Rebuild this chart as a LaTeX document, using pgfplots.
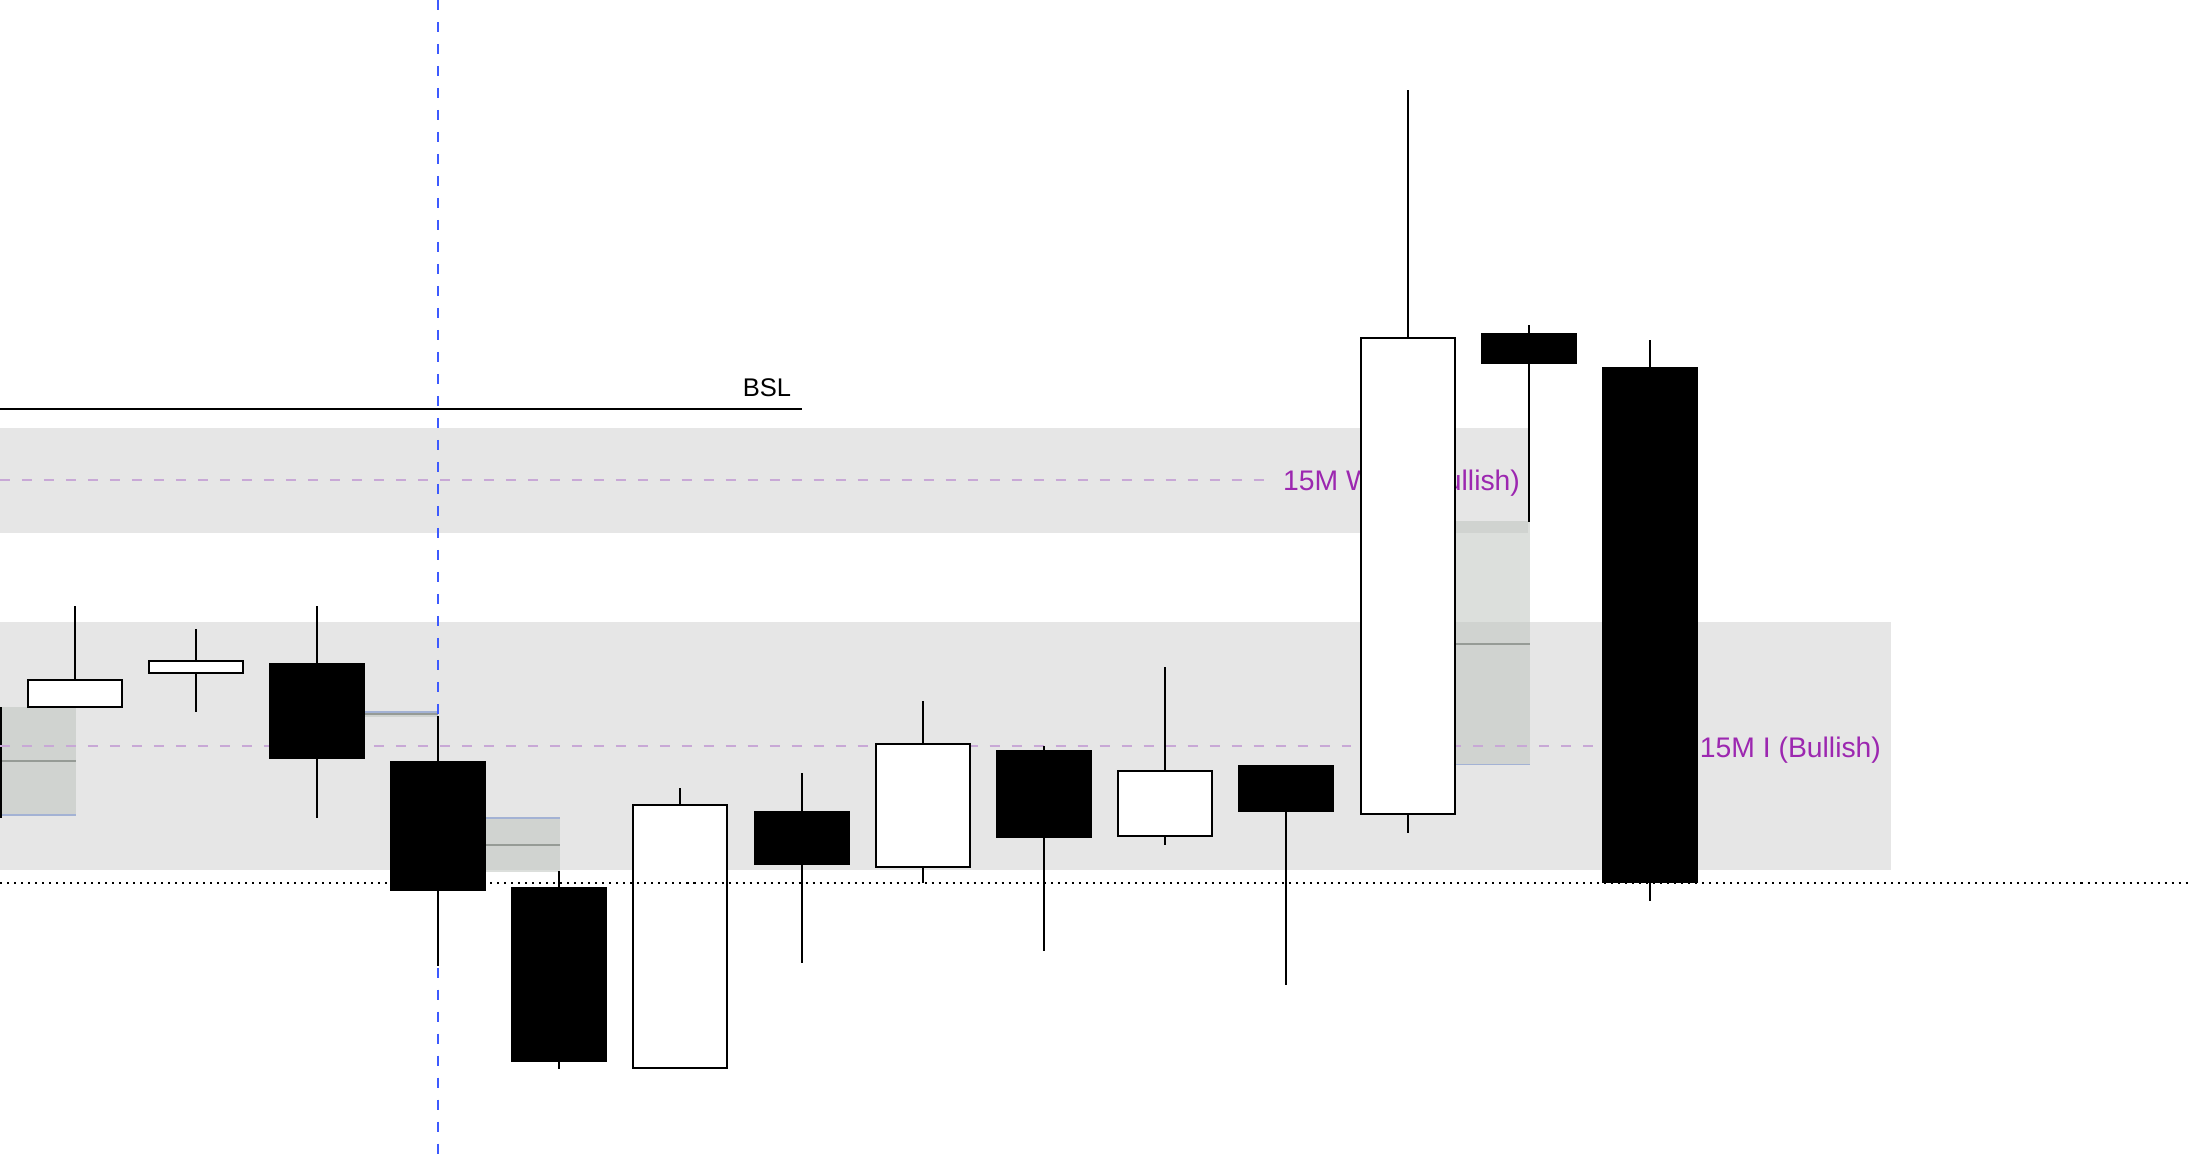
\documentclass[border=0pt]{standalone}
\usepackage{pgfplots}
\pgfplotsset{compat=1.18}
\usepackage{fontspec}
\setmainfont{Liberation Sans}
\definecolor{band}{RGB}{230,230,230}
\definecolor{fvg}{RGB}{191,197,191}
\definecolor{fvgmid}{RGB}{150,155,150}
\definecolor{fvgblue}{RGB}{163,178,212}
\definecolor{lav}{RGB}{200,168,214}
\definecolor{lblpurple}{RGB}{156,39,176}
\definecolor{vblue}{RGB}{61,90,254}
\begin{document}
\begin{tikzpicture}
\begin{axis}[
  scale only axis, width=784pt, height=413.5pt,
  xmin=0, xmax=1568, ymin=0, ymax=827, y dir=reverse,
  hide axis, clip=true,
]
\path (rel axis cs:0,0) rectangle (rel axis cs:1,1);
% gray zones
\addplot[draw=none, fill=band] coordinates {(0,306.7) (1095.2,306.7) (1095.2,381.7) (0,381.7)} -- cycle;
\addplot[draw=none, fill=band] coordinates {(0,445.5) (1355,445.5) (1355,623.5) (0,623.5)} -- cycle;
% FVG boxes
\addplot[draw=none, fill=fvg, fill opacity=0.55] coordinates {(0,506.7) (54.6,506.7) (54.6,584.3) (0,584.3)} -- cycle;
\addplot[draw=none, fill=fvg, fill opacity=0.55] coordinates {(261.6,510.2) (313.9,510.2) (313.9,513.6) (261.6,513.6)} -- cycle;
\addplot[draw=none, fill=fvg, fill opacity=0.55] coordinates {(348.3,586) (401.3,586) (401.3,624.7) (348.3,624.7)} -- cycle;
\addplot[draw=none, fill=fvg, fill opacity=0.55] coordinates {(1042.8,373.4) (1096.6,373.4) (1096.6,548.2) (1042.8,548.2)} -- cycle;
% FVG mid lines
\addplot[fvgmid, line width=0.6pt] coordinates {(0,545.4) (54.6,545.4)};
\addplot[fvgmid, line width=0.6pt] coordinates {(261.6,511.8) (313.9,511.8)};
\addplot[fvgmid, line width=0.6pt] coordinates {(348.3,605.3) (401.3,605.3)};
\addplot[fvgmid, line width=0.6pt] coordinates {(1042.8,461.3) (1096.6,461.3)};
% FVG blue edges
\addplot[fvgblue, line width=0.6pt] coordinates {(0,584) (54.6,584)};
\addplot[fvgblue, line width=0.6pt] coordinates {(261.6,510.4) (313.9,510.4)};
\addplot[fvgblue, line width=0.6pt] coordinates {(348.3,586.2) (401.3,586.2)};
\addplot[fvgblue, line width=0.6pt] coordinates {(1042.8,547.8) (1096.6,547.8)};
% edge line at far left
\addplot[black, line width=0.72pt] coordinates {(0.5,506.7) (0.5,586.3)};
% purple dashed levels
\addplot[lav, line width=0.8pt, dash pattern=on 3.58pt off 4.3pt] coordinates {(0,343.8) (908,343.8)};
\addplot[lav, line width=0.8pt, dash pattern=on 3.58pt off 4.3pt] coordinates {(0,534.5) (1143,534.5)};
\node[anchor=base west, inner sep=0pt, text=lblpurple, font=\fontsize{10.15}{12}\selectfont] at (axis cs:919.2,351.6) {15M W\hspace{1.3em} (Bullish)};
\node[anchor=base west, inner sep=0pt, text=lblpurple, font=\fontsize{10.15}{12}\selectfont] at (axis cs:1217.8,542.7) {15M I (Bullish)};
% BSL
\addplot[black, line width=0.72pt] coordinates {(0,293.1) (574.5,293.1)};
\node[anchor=base east, inner sep=0pt, font=\fontsize{9.15}{11}\selectfont] at (axis cs:567.3,283.8) {BSL};
% blue vertical dashed line
\addplot[vblue, line width=0.72pt, dash pattern=on 3.58pt off 4.3pt] coordinates {(313.9,0) (313.9,827)};
% wicks
\addplot[black, line width=0.72pt] coordinates {(53.8,434.3) (53.8,497)};
\addplot[black, line width=0.72pt] coordinates {(140.4,450.8) (140.4,510)};
\addplot[black, line width=0.72pt] coordinates {(227.1,434.3) (227.1,586)};
\addplot[black, line width=0.72pt] coordinates {(313.9,513.1) (313.9,692.3)};
\addplot[black, line width=0.72pt] coordinates {(400.6,624.2) (400.6,766)};
\addplot[black, line width=0.72pt] coordinates {(487.3,564.7) (487.3,700)};
\addplot[black, line width=0.72pt] coordinates {(574.7,554) (574.7,690.1)};
\addplot[black, line width=0.72pt] coordinates {(661.5,502.4) (661.5,632.6)};
\addplot[black, line width=0.72pt] coordinates {(748.2,534.6) (748.2,681.5)};
\addplot[black, line width=0.72pt] coordinates {(834.9,478) (834.9,605.3)};
\addplot[black, line width=0.72pt] coordinates {(921.6,560) (921.6,705.6)};
\addplot[black, line width=0.72pt] coordinates {(1009,64.5) (1009,597)};
\addplot[black, line width=0.72pt] coordinates {(1095.7,232.9) (1095.7,373.9)};
\addplot[black, line width=0.72pt] coordinates {(1182.4,243.7) (1182.4,646)};
% bodies
\addplot[draw=black, fill=white, line width=0.72pt] coordinates {(20.3,487) (87.3,487) (87.3,506.8) (20.3,506.8)} -- cycle;
\addplot[draw=black, fill=white, line width=0.72pt] coordinates {(106.9,473.5) (173.9,473.5) (173.9,482.6) (106.9,482.6)} -- cycle;
\addplot[draw=black, fill=black, line width=0.72pt] coordinates {(193.6,476) (260.6,476) (260.6,543) (193.6,543)} -- cycle;
\addplot[draw=black, fill=black, line width=0.72pt] coordinates {(280.4,546) (347.4,546) (347.4,637.6) (280.4,637.6)} -- cycle;
\addplot[draw=black, fill=black, line width=0.72pt] coordinates {(367.1,636.4) (434.1,636.4) (434.1,760.1) (367.1,760.1)} -- cycle;
\addplot[draw=black, fill=white, line width=0.72pt] coordinates {(453.8,576.7) (520.8,576.7) (520.8,765.4) (453.8,765.4)} -- cycle;
\addplot[draw=black, fill=black, line width=0.72pt] coordinates {(541.2,581.9) (608.2,581.9) (608.2,619) (541.2,619)} -- cycle;
\addplot[draw=black, fill=white, line width=0.72pt] coordinates {(628,532.9) (695,532.9) (695,621.6) (628,621.6)} -- cycle;
\addplot[draw=black, fill=black, line width=0.72pt] coordinates {(714.7,538.2) (781.7,538.2) (781.7,599.6) (714.7,599.6)} -- cycle;
\addplot[draw=black, fill=white, line width=0.72pt] coordinates {(801.4,552.3) (868.4,552.3) (868.4,599.1) (801.4,599.1)} -- cycle;
\addplot[draw=black, fill=black, line width=0.72pt] coordinates {(888.1,548.9) (955.1,548.9) (955.1,581.2) (888.1,581.2)} -- cycle;
\addplot[draw=black, fill=white, line width=0.72pt] coordinates {(975.5,242) (1042.5,242) (1042.5,583.1) (975.5,583.1)} -- cycle;
\addplot[draw=black, fill=black, line width=0.72pt] coordinates {(1062.2,239.3) (1129.2,239.3) (1129.2,259.9) (1062.2,259.9)} -- cycle;
\addplot[draw=black, fill=black, line width=0.72pt] coordinates {(1148.9,263.7) (1215.9,263.7) (1215.9,632.3) (1148.9,632.3)} -- cycle;
% dotted level
\addplot[black, line width=0.72pt, dash pattern=on 0.72pt off 1.79pt] coordinates {(0,632.6) (1568,632.6)};
\end{axis}
\end{tikzpicture}
\end{document}
